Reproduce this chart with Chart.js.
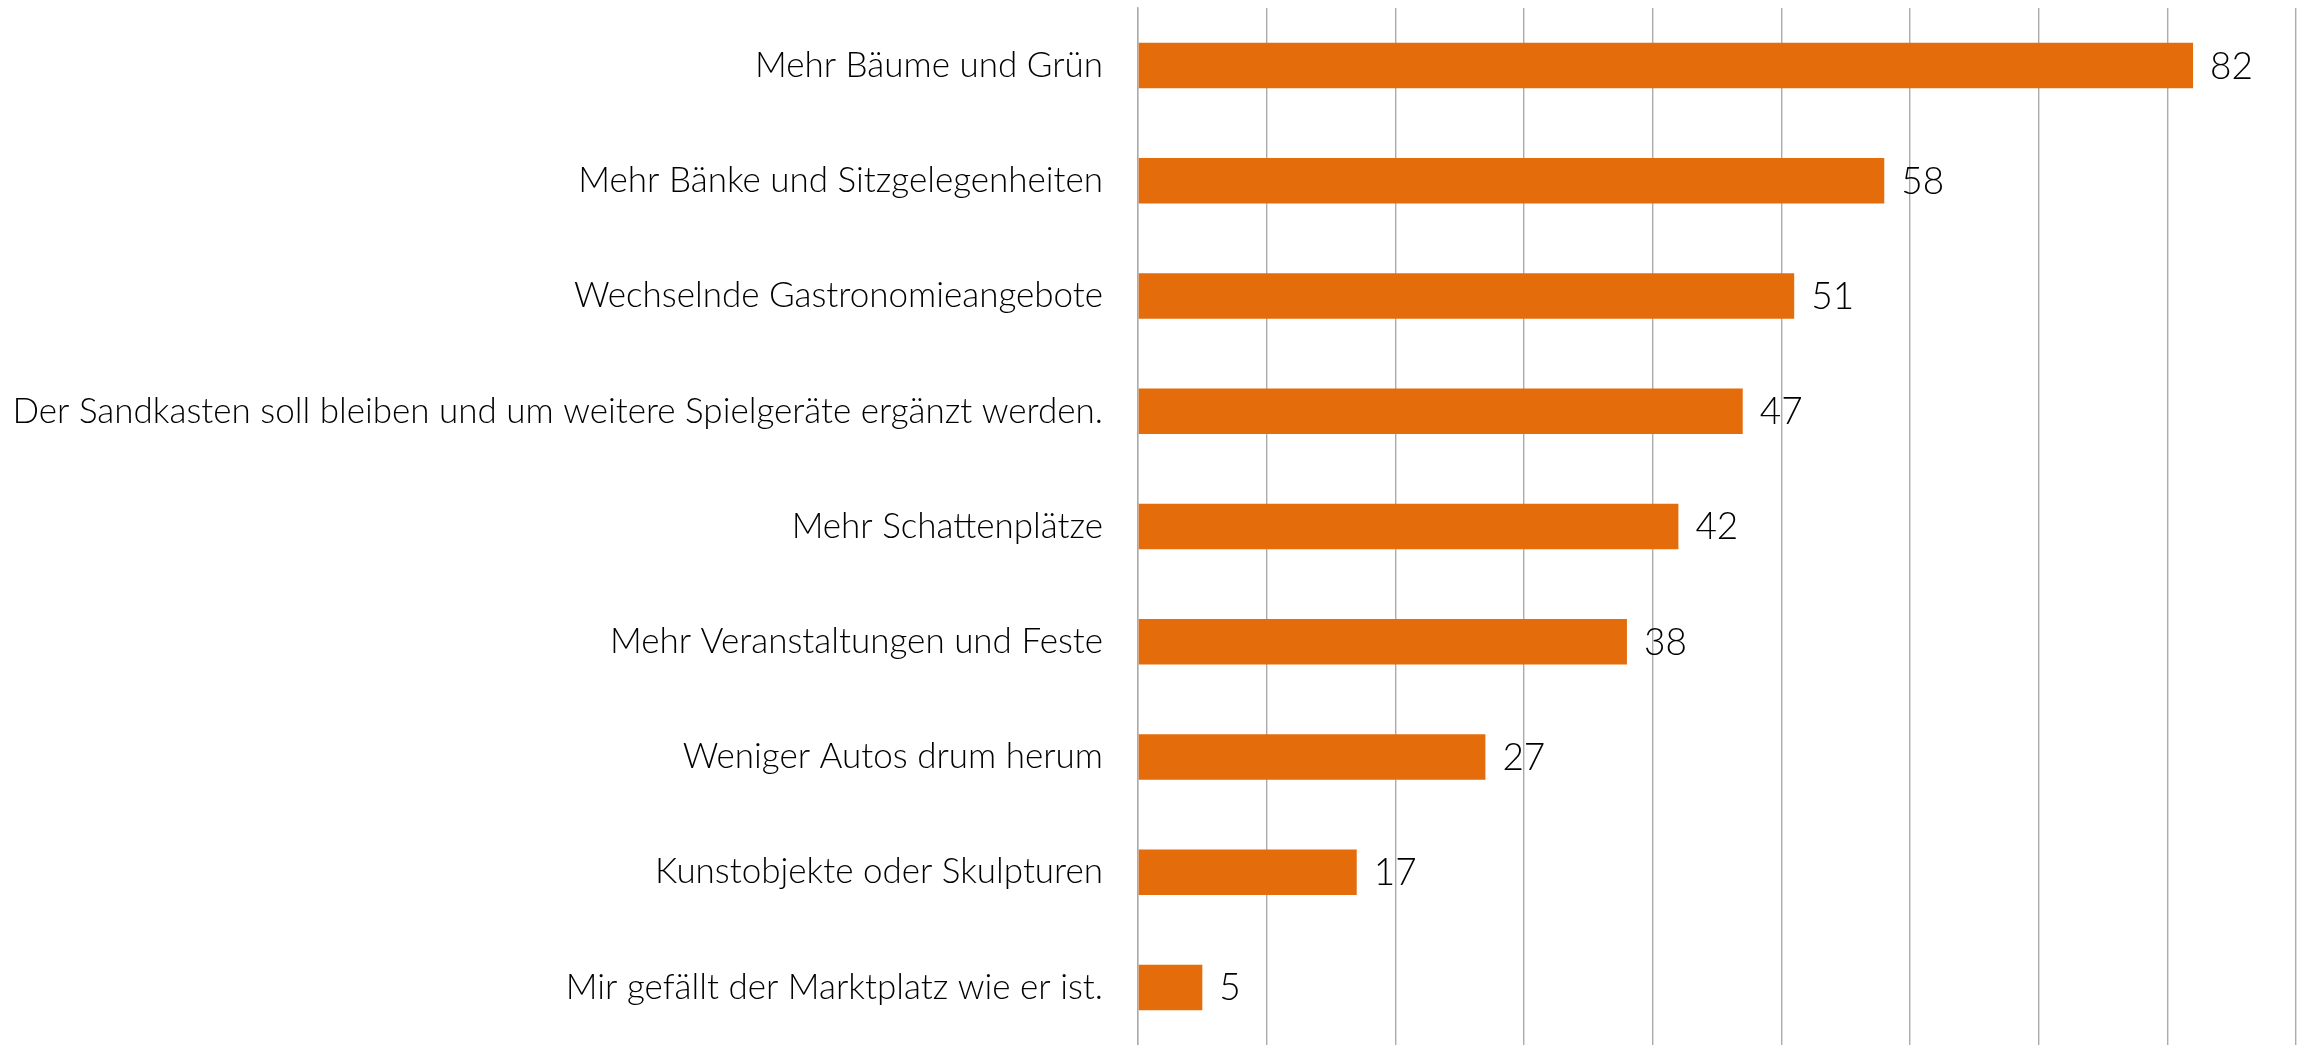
<!DOCTYPE html>
<html>
<head>
<meta charset="utf-8">
<script src="https://cdn.jsdelivr.net/npm/chart.js@4/dist/chart.umd.min.js"></script>
<style>
  html, body { margin: 0; padding: 0; background: #ffffff; }
  #wrap { width: 2310px; height: 1045px; position: relative; }
</style>
</head>
<body>
<div id="wrap"><canvas id="c"></canvas></div>
<script>
const categories = [
  "Mehr Bäume und Grün",
  "Mehr Bänke und Sitzgelegenheiten",
  "Wechselnde Gastronomieangebote",
  "Der Sandkasten soll bleiben und um weitere Spielgeräte ergänzt werden.",
  "Mehr Schattenplätze",
  "Mehr Veranstaltungen und Feste",
  "Weniger Autos drum herum",
  "Kunstobjekte oder Skulpturen",
  "Mir gefällt der Marktplatz wie er ist."
];
const values = [82, 58, 51, 47, 42, 38, 27, 17, 5];
const axisMin = 0;
const axisMax = 90;
const axisStep = 10;

const FONT = "Lato";

const valueLabels = {
  id: 'valueLabels',
  afterDatasetsDraw(chart) {
    const ctx = chart.ctx;
    const meta = chart.getDatasetMeta(0);
    ctx.save();
    ctx.font = "300 37px " + FONT;
    ctx.fillStyle = "#000000";
    ctx.textAlign = "left";
    ctx.textBaseline = "middle";
    meta.data.forEach((bar, i) => {
      ctx.fillText(String(values[i]), bar.x + 17, bar.y + 1);
    });
    ctx.restore();
  }
};

new Chart(document.getElementById('c'), {
  type: 'bar',
  data: {
    labels: categories,
    datasets: [{
      data: values,
      backgroundColor: '#E46C0A',
      borderWidth: 0,
      categoryPercentage: 1.0,
      barPercentage: 0.395
    }]
  },
  options: {
    indexAxis: 'y',
    responsive: true,
    maintainAspectRatio: false,
    animation: false,
    events: [],
    layout: { padding: { left: 0, right: 14, top: 8, bottom: -3 } },
    plugins: {
      legend: { display: false },
      tooltip: { enabled: false },
      title: { display: false }
    },
    scales: {
      x: {
        min: axisMin,
        max: axisMax,
        afterFit(scale) { scale.height = 0; scale.paddingLeft = 0; scale.paddingRight = 0; },
        ticks: { display: false, stepSize: axisStep },
        grid: { color: '#ababab', lineWidth: 1.4, drawTicks: false },
        border: { display: false }
      },
      y: {
        afterFit(scale) { scale.width = 1138; scale.paddingTop = 0; scale.paddingBottom = 0; },
        ticks: {
          color: '#000000',
          padding: 35,
          font: { family: FONT, size: 35, weight: '300' }
        },
        grid: { display: false, drawTicks: false },
        border: { display: true, color: '#ababab', width: 1.4 }
      }
    }
  },
  plugins: [valueLabels]
});
</script>
</body>
</html>
